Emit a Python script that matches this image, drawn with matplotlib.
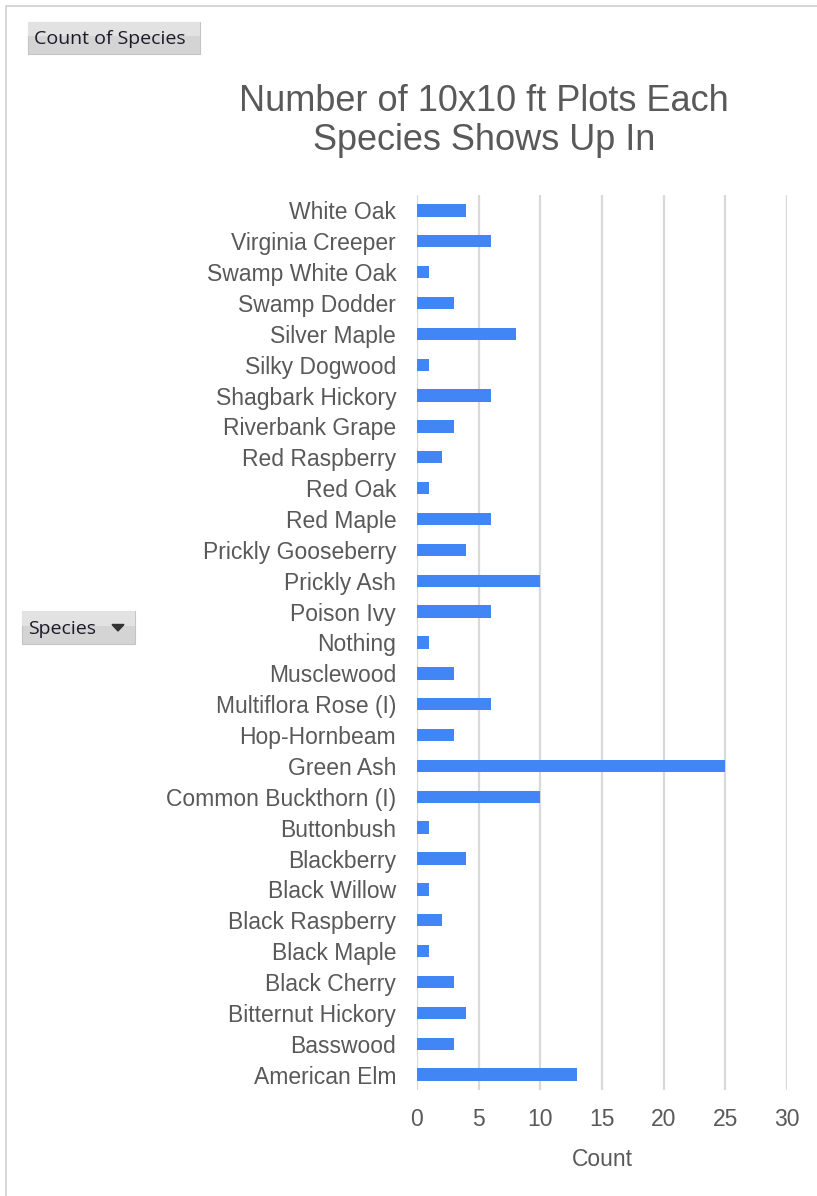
import matplotlib.pyplot as plt
from matplotlib.patches import Rectangle, Polygon

species = ['White Oak', 'Virginia Creeper', 'Swamp White Oak', 'Swamp Dodder',
           'Silver Maple', 'Silky Dogwood', 'Shagbark Hickory', 'Riverbank Grape',
           'Red Raspberry', 'Red Oak', 'Red Maple', 'Prickly Gooseberry',
           'Prickly Ash', 'Poison Ivy', 'Nothing', 'Musclewood',
           'Multiflora Rose (I)', 'Hop-Hornbeam', 'Green Ash',
           'Common Buckthorn (I)', 'Buttonbush', 'Blackberry', 'Black Willow',
           'Black Raspberry', 'Black Maple', 'Black Cherry', 'Bitternut Hickory',
           'Basswood', 'American Elm']
counts = [4, 6, 1, 3, 8, 1, 6, 3, 2, 1, 6, 4, 10, 6, 1, 3, 6, 3, 25, 10,
          1, 4, 1, 2, 1, 3, 4, 3, 13]
xticks = [0, 5, 10, 15, 20, 25, 30]

plt.rcParams['font.family'] = ['Liberation Sans', 'DejaVu Sans']
grey = '#595959'
W, H = 817, 1196

fig = plt.figure(figsize=(W / 100, H / 100), dpi=100)
ax = fig.add_axes([417 / W, 1 - 1090 / H, 370 / W, 895 / H])

ypos = list(range(len(species)))[::-1]
ax.barh(ypos, counts, height=0.4, color='#4285f4', zorder=3)
ax.set_ylim(-0.5, len(species) - 0.5)
ax.set_xlim(0, 30)
ax.set_yticks(ypos)
ax.set_yticklabels(species, fontsize=16.5, color=grey)
ax.set_xticks(xticks)
ax.set_xticklabels([str(t) for t in xticks], fontsize=16.5, color=grey)
ax.tick_params(length=0, pad=15, axis='y')
ax.tick_params(length=0, pad=13, axis='x')
ax.xaxis.grid(True, color='#d9d9d9', linewidth=1.6, zorder=0)
for s in ax.spines.values():
    s.set_visible(False)
ax.set_xlabel('Count', fontsize=16.5, color=grey, labelpad=12)

fig.text(484 / W, 1 - 121 / H, 'Number of 10x10 ft Plots Each\nSpecies Shows Up In',
         ha='center', va='center', fontsize=26, color=grey, linespacing=1.12)

# outer frame
fig.add_artist(Rectangle((6 / W, -0.01), 1.2, 1.01 - 6 / H, transform=fig.transFigure,
                         fill=False, edgecolor='#d0d0d0', linewidth=1.2))

# pivot field buttons
def button(x0, y0, x1, y1, label, arrow=False):
    fig.add_artist(Rectangle((x0 / W, 1 - y1 / H), (x1 - x0) / W, (y1 - y0) / H,
                             transform=fig.transFigure, facecolor='#d4d4d4',
                             edgecolor='#c4c4c4', linewidth=0.8))
    fig.add_artist(Rectangle((x0 / W, 1 - (y0 + (y1 - y0) * 0.45) / H),
                             (x1 - x0) / W, (y1 - y0) * 0.45 / H,
                             transform=fig.transFigure, facecolor='#e2e2e2',
                             edgecolor='none'))
    fig.text((x0 + 6) / W, 1 - ((y0 + y1) / 2 + 1) / H, label, ha='left', va='center',
             fontsize=14, color='#1a1a2a', family=['Open Sans', 'DejaVu Sans'])
    if arrow:
        ax_ = x1 - 17
        ay = (y0 + y1) / 2
        fig.add_artist(Polygon([((ax_ - 6) / W, 1 - (ay - 3) / H),
                                ((ax_ + 6) / W, 1 - (ay - 3) / H),
                                (ax_ / W, 1 - (ay + 3.5) / H)],
                               transform=fig.transFigure, color='#333333'))

button(28, 22, 200, 54, 'Count of Species')
button(22, 611, 135, 644, 'Species', arrow=True)

fig.savefig('out.png', dpi=100)
